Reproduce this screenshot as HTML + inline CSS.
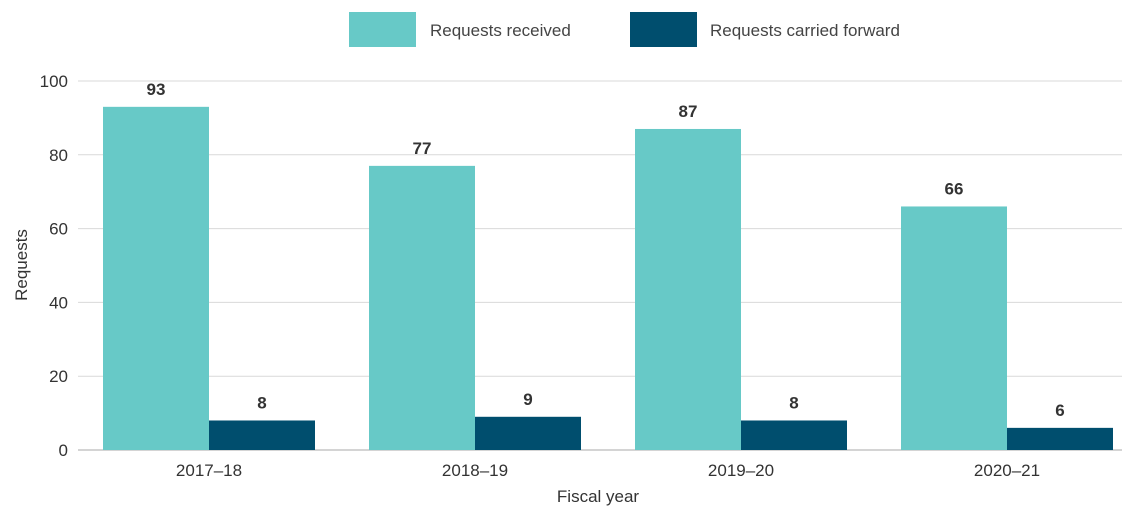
<!DOCTYPE html>
<html><head><meta charset="utf-8"><style>
body{margin:0;background:#fff;}
svg{display:block;font-family:"Liberation Sans",sans-serif;}
</style></head><body>
<svg id="chart" width="1141" height="524">
<g id="legend">
<rect x="349" y="12" width="67" height="35" fill="#67c9c7"/>
<text x="430" y="36" font-size="17" fill="#444">Requests received</text>
<rect x="630" y="12" width="67" height="35" fill="#004e6e"/>
<text x="710" y="36" font-size="17" fill="#444">Requests carried forward</text>
</g>
<g id="grid"></g><g id="bars"></g><g id="labels"></g>
<text transform="translate(27,265) rotate(-90)" text-anchor="middle" font-size="17" fill="#333">Requests</text>
<text x="598" y="502" text-anchor="middle" font-size="17" fill="#333">Fiscal year</text>
</svg>
<script>
const categories=["2017–18","2018–19","2019–20","2020–21"];
const received=[93,77,87,66];
const carried=[8,9,8,6];
const yTicks=[0,20,40,60,80,100];
const NS="http://www.w3.org/2000/svg";
const y0=450,yTop=81,yMax=100;
function y(v){return y0-(y0-yTop)*v/yMax;}
function xc(i){return 209+266*i;}
const bw=106;
function mk(tag,attrs,parent,txt){const e=document.createElementNS(NS,tag);for(const k in attrs)e.setAttribute(k,attrs[k]);if(txt!==undefined)e.textContent=txt;document.getElementById(parent).appendChild(e);return e;}
yTicks.forEach(t=>{
 const l=mk('line',{x1:78,x2:1122,y1:y(t),y2:y(t),stroke:t===0?'#aaa':'#d9d9d9','stroke-width':1},'grid');
 
 
 const tx=mk('text',{x:68,y:y(t)+6,'text-anchor':'end','font-size':17,fill:'#333'},'grid',t);
 
 
});
categories.forEach((c,i)=>{
 const r1=mk('rect',{x:xc(i)-bw,y:y(received[i]),width:bw,height:y0-y(received[i]),fill:'#67c9c7'},'bars');
 
 
 const r2=mk('rect',{x:xc(i),y:y(carried[i]),width:bw,height:y0-y(carried[i]),fill:'#004e6e'},'bars');
 
 
 const v1=mk('text',{x:xc(i)-bw/2,y:y(received[i])-12,'text-anchor':'middle','font-size':17,'font-weight':'bold',fill:'#333'},'labels',received[i]);
 
 
 const v2=mk('text',{x:xc(i)+bw/2,y:y(carried[i])-12,'text-anchor':'middle','font-size':17,'font-weight':'bold',fill:'#333'},'labels',carried[i]);
 
 
 const cl=mk('text',{x:xc(i),y:476,'text-anchor':'middle','font-size':17,fill:'#333'},'labels',c);
 
 
});
</script>
</body></html>
